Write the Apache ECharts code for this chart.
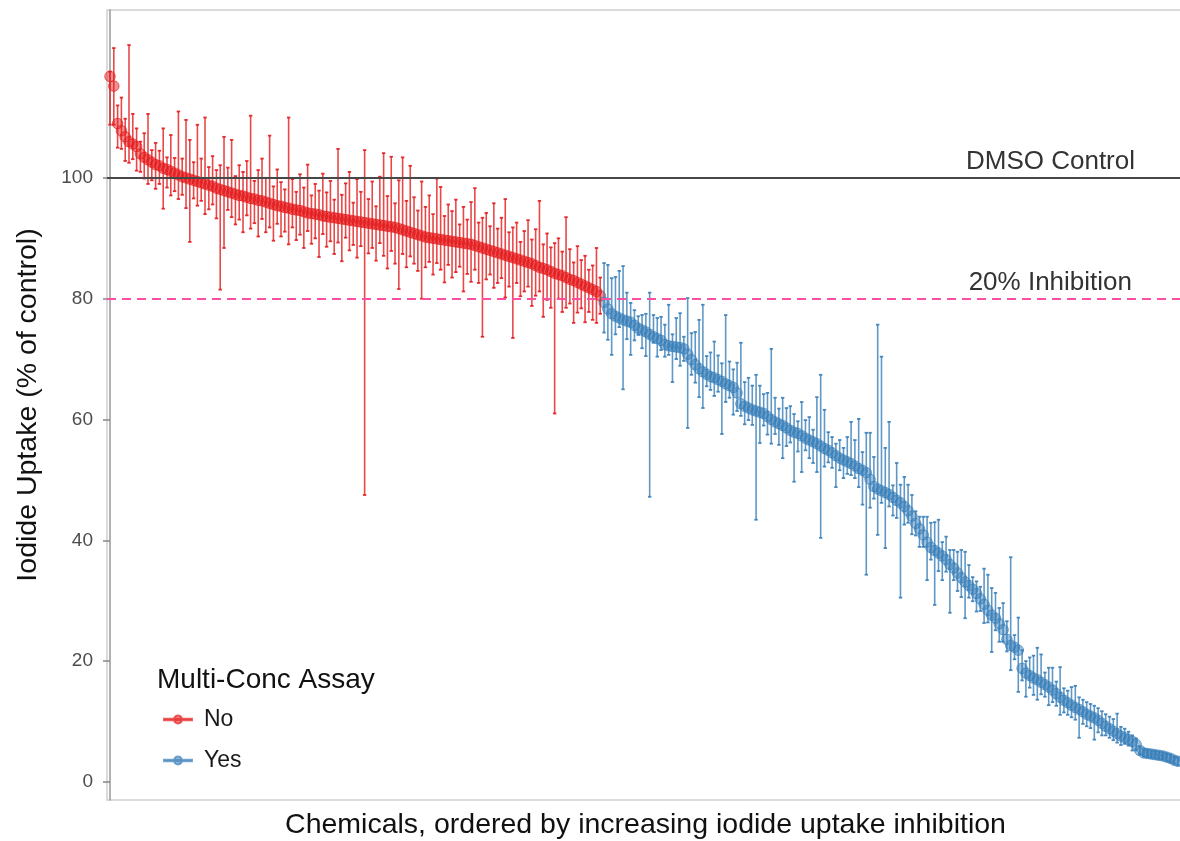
<!DOCTYPE html>
<html>
<head>
<meta charset="utf-8">
<script src="https://cdn.jsdelivr.net/npm/echarts@6/dist/echarts.min.js"></script>
<style>
  html, body { margin: 0; padding: 0; background: #fff; }
  #chart { width: 1180px; height: 841px; }
</style>
</head>
<body>
<div id="chart"></div>
<script>
// Iodide uptake per chemical (% of DMSO control), ordered by increasing inhibition.
// Chemicals not carried into the multi-concentration assay ("No")
const noMean = [
  116.8,115.2,109,107.8,106.8,106,105.6,105.2,104,103.4,
  103,102.6,102.2,102,101.6,101.4,101.1,100.8,100.5,100.2,
  100,99.8,99.6,99.4,99.2,99,98.8,98.6,98.3,98.1,
  97.9,97.7,97.5,97.3,97.1,97,96.8,96.6,96.5,96.3,
  96.2,96,95.8,95.6,95.4,95.3,95.1,95,94.8,94.7,
  94.6,94.4,94.2,94.1,94,93.9,93.7,93.6,93.5,93.4,
  93.3,93.2,93.1,93,92.9,92.8,92.7,92.6,92.5,92.4,
  92.3,92.2,92.1,92,91.9,91.8,91.6,91.4,91.2,91,
  90.8,90.6,90.4,90.2,90.1,90,89.9,89.8,89.7,89.6,
  89.5,89.4,89.3,89.2,89.1,89,88.8,88.6,88.4,88.2,
  88,87.8,87.6,87.4,87.2,87,86.8,86.6,86.4,86.2,
  86,85.8,85.5,85.2,85,84.8,84.5,84.2,84,83.8,
  83.5,83.2,83,82.7,82.4,82.1,81.8,81.5,81.2,80.5
];
// distance from the mean down to the lower end of each error bar
const noErrLo = [
  8,6.4,4,3,4,3.5,2.5,4,3,3.5,
  4,3,4,3,6.7,3,4,3,4,3,
  5,10.4,3,4,3,5,4,3,5,16.6,
  9.5,3,4,5,4,6,3,5,4,6,
  3,5,4,6,3,5,4,6,3,5,
  4,6,3,5,4,7,3,5,4,6,
  4,7,3,5,4,6,4,45.1,5,4,
  6,3,5,7,4,6,10,4,6,4,
  5,6,10.4,5,4,6,4,5,7,4,
  6,5,4,8,5,6.2,4,6,14.7,5,
  4,6,5,4,7,5,13.3,4,6,5,
  4,7,5,4,8,5,6,23.2,4,6,
  5,4,7,5,4,6,4,5,5.2,3
];
// distance from the mean up to the upper end of each error bar
const noErrHi = [
  0.8,6.3,3,5.5,3,16,5,3,2,4,
  7.6,2,3.6,2.5,6.6,2,6,2.5,10.5,3,
  9.6,6.5,3,9.4,4,11,3,5,3,4,
  8.9,4,8.8,3,5,4,6,13.7,3,5,
  7,4,11.2,3,6,4,3,15,5,3,
  6,4,8,3,5,4,7,4,6,3,
  11.5,4,6,8,3,7,5,12,4,7,
  3,8,12,5,11.6,4,8,12,5,11,
  6,4,9,5,7,4,10,8.7,4,6,
  5,7,3,6,4,7,9.5,4,5,6,
  4,8,4,6,9.3,4,5,6,3,5,
  7,4,6,11,4,6,4,5,6,4,
  10,5,3,6,4,5,3,4,7.2,3
];

// Chemicals carried into the multi-concentration assay ("Yes")
const yesMean = [
  79.4,78.3,77.5,77.1,76.8,76.5,76.3,76.1,75.6,75.1,
  74.8,74.5,74.1,73.7,73.4,73.1,72.4,72.2,72.1,72.0,
  71.9,71.7,70.8,69.9,69.1,68.4,67.9,67.5,67.1,66.9,
  66.6,66.3,65.9,65.6,65.3,64.4,62.6,62.2,61.9,61.6,
  61.4,61.2,61.0,60.5,60.0,59.6,59.3,59.0,58.6,58.2,
  57.9,57.7,57.3,56.9,56.6,56.3,56.0,55.6,55.2,54.9,
  54.5,54.0,53.6,53.3,53.0,52.7,52.3,51.9,51.6,51.2,
  50.1,48.9,48.5,48.2,47.9,47.6,47.1,46.6,46.2,45.6,
  44.9,44.0,42.8,41.9,40.9,39.7,38.8,38.3,37.9,37.4,
  36.8,36.0,35.4,34.6,33.8,33.1,32.5,31.9,31.2,30.3,
  29.4,28.4,27.6,27.1,26.2,25.2,23.6,22.6,22.3,21.8,
  18.8,18.0,17.6,17.2,16.9,16.5,16.1,15.7,15.2,14.6,
  14.0,13.5,13.1,12.7,12.3,12.0,11.6,11.2,10.9,10.6,
  10.2,9.7,9.2,8.8,8.4,8.0,7.6,7.3,7.0,6.7,
  6.2,5.2,4.8,4.7,4.6,4.5,4.4,4.3,4.1,3.9,
  3.6,3.4
];
const yesErrLo = [
  5,5.1,6.8,3,1.5,11.5,3,5.4,2.5,1.1,
  3,4,26.9,1,3,1.6,2,1.5,5.9,2,
  3,2,12.2,2.5,3,4.7,6,2,2.2,3,
  2,8.7,3,2,4.5,3,2,3,2,2.5,
  18,5.1,2,3,4,2,3.5,5.4,3,2,
  8.2,3,6,2,3,3.5,4.7,15.2,3,2,
  2.5,5.2,2,3,2,1.9,2,3.1,5.7,16.9,
  4.7,2,7.6,2,9.2,2,3,2.9,15.7,3,
  2,3,2,3,2,6.3,2,9,3,4,
  2,8,2,3,3.2,6,2,2,3,2,
  3.1,2,6.1,2,3,2,2,4.1,2,6.9,
  2,3.9,2,2.8,3.3,2,2,3,2,2,
  2.9,2,2,2,2,4.7,2,2,2,3.6,
  2,2,1.5,1.5,1.5,1.5,1.5,1,1,1.5,
  1,0.6,0.6,0.6,0.6,0.6,0.6,0.6,0.6,0.6,
  0.6,0.6
];
const yesErrHi = [
  6.5,7.3,5.9,6.5,7.8,8.9,4.7,3.2,2.5,2,
  2.5,3,6.9,3.6,3.4,3.9,3.3,6.8,2,4.8,
  5.7,2,9.3,4.4,5.4,8.1,11.1,3,4,6,
  4,3,11.4,4,3,5,10.1,4,5,4,
  6,4.4,3.2,3.9,11.7,4,2.5,4.6,3.3,4,
  3,2,5.6,3,3.8,2,7.7,11.8,6.4,3,
  2.6,2,3,2,4.1,6.9,4.3,8.2,3,6.6,
  7.7,4.9,27.2,22.2,7.4,12,2,6.2,3,4.9,
  4.3,3.5,2,2,3,4.2,4.1,4.7,5.5,2.3,
  3.8,2.4,3,3.5,4.6,5,3.4,2,2,2,
  5.9,5.9,4.5,4.2,2.6,4.4,3,14.6,2,5.4,
  3,2,3,3.7,5.3,4.6,2,3.2,3.7,2,
  5,2,2,3,3.6,2,2,2,2,2,
  2,2,2,2,2,3.3,1.5,1.5,1.3,1,
  1,0.6,0.6,0.6,0.6,0.6,0.6,0.6,0.6,0.6,
  0.6,0.6
];

const yTicks = [0, 20, 40, 60, 80, 100];
const controlLevel = 100;     // DMSO control
const inhibitionLevel = 80;   // 20% inhibition threshold
const groupNames = ['No', 'Yes'];

const RED = '#e41a1c';
const BLUE = '#377eb8';
const FONT = '"Liberation Sans", Arial, Helvetica, sans-serif';

function rgba(hex, a) {
  const n = parseInt(hex.slice(1), 16);
  return 'rgba(' + (n >> 16 & 255) + ',' + (n >> 8 & 255) + ',' + (n & 255) + ',' + a + ')';
}

// rank along the x axis: "No" chemicals first, then "Yes"
const noPoints = noMean.map((m, i) => [i, m]);
const yesPoints = yesMean.map((m, i) => [noMean.length + i, m]);
const noBars = noMean.map((m, i) => [i, m - noErrLo[i], m + noErrHi[i]]);
const yesBars = yesMean.map((m, i) => [noMean.length + i, m - yesErrLo[i], m + yesErrHi[i]]);

function errorBarRenderer(color) {
  return function (params, api) {
    const x = api.value(0);
    const lo = api.coord([x, api.value(1)]);
    const hi = api.coord([x, api.value(2)]);
    const style = { stroke: rgba(color, 0.8), lineWidth: 1.6 };
    const cap = { stroke: rgba(color, 0.9), lineWidth: 1.8 };
    const w = 1.7;
    return {
      type: 'group',
      children: [
        { type: 'line', shape: { x1: lo[0], y1: lo[1], x2: hi[0], y2: hi[1] }, style: style },
        { type: 'line', shape: { x1: lo[0] - w, y1: lo[1], x2: lo[0] + w, y2: lo[1] }, style: cap },
        { type: 'line', shape: { x1: hi[0] - w, y1: hi[1], x2: hi[0] + w, y2: hi[1] }, style: cap }
      ]
    };
  };
}

const legendIcon = 'path://M0,4.2 L28,4.2 L28,5.8 L0,5.8 Z M14,1 A4,4 0 1 1 13.99,1 Z';

const chart = echarts.init(document.getElementById('chart'), null, { renderer: 'canvas' });

chart.setOption({
  animation: false,
  backgroundColor: '#ffffff',
  textStyle: { fontFamily: FONT },
  title: {
    text: 'Multi-Conc Assay',
    left: 157,
    top: 666,
    padding: 0,
    textStyle: { fontFamily: FONT, fontSize: 28, fontWeight: 'normal', color: '#111111' }
  },
  legend: {
    data: groupNames,
    orient: 'vertical',
    left: 163,
    top: 708,
    padding: 0,
    itemWidth: 28,
    itemHeight: 10,
    itemGap: 18,
    icon: legendIcon,
    textStyle: { fontFamily: FONT, fontSize: 23, color: '#1a1a1a', padding: [0, 0, 0, 7] }
  },
  grid: {
    left: 107,
    right: -4,
    top: 10,
    bottom: 41,
    containLabel: false,
    outerBoundsMode: 'none',
    show: true,
    borderColor: '#cfcfcf',
    borderWidth: 1.5,
    backgroundColor: 'transparent'
  },
  xAxis: {
    type: 'value',
    min: -0.79,
    max: 282.6,
    name: 'Chemicals, ordered by increasing iodide uptake inhibition',
    nameLocation: 'middle',
    nameGap: 11,
    nameTextStyle: { fontFamily: FONT, fontSize: 28.5, color: '#111111' },
    axisLine: { show: false },
    axisTick: { show: false },
    axisLabel: { show: false },
    splitLine: { show: false }
  },
  yAxis: {
    type: 'value',
    min: -3,
    max: 127.8,
    name: 'Iodide Uptake (% of control)',
    nameLocation: 'middle',
    nameRotate: 90,
    nameGap: 64,
    nameTextStyle: { fontFamily: FONT, fontSize: 28.5, color: '#111111' },
    axisLine: { show: true, lineStyle: { color: '#999999', width: 1.5 } },
    axisTick: { show: true, length: 7, customValues: yTicks, lineStyle: { color: '#888888', width: 1.5 } },
    axisLabel: {
      customValues: yTicks,
      fontFamily: FONT, fontSize: 19, color: '#4d4d4d', margin: 14
    },
    splitLine: { show: false }
  },
  series: [
    {
      name: 'No',
      type: 'scatter',
      data: noPoints,
      symbol: 'circle',
      symbolSize: 10.5,
      itemStyle: { color: rgba(RED, 0.6), borderColor: rgba(RED, 0.85), borderWidth: 1 },
      z: 2
    },
    {
      name: 'Yes',
      type: 'scatter',
      data: yesPoints,
      symbol: 'circle',
      symbolSize: 10.5,
      itemStyle: { color: rgba(BLUE, 0.6), borderColor: rgba(BLUE, 0.85), borderWidth: 1 },
      z: 2
    },
    {
      name: 'No bars',
      type: 'custom',
      data: noBars,
      encode: { x: 0, y: [1, 2] },
      renderItem: errorBarRenderer(RED),
      z: 3,
      silent: true
    },
    {
      name: 'Yes bars',
      type: 'custom',
      data: yesBars,
      encode: { x: 0, y: [1, 2] },
      renderItem: errorBarRenderer(BLUE),
      z: 3,
      silent: true
    },
    {
      name: 'reference',
      type: 'line',
      data: [],
      z: 5,
      markLine: {
        silent: true,
        symbol: 'none',
        animation: false,
        data: [
          {
            yAxis: controlLevel,
            lineStyle: { color: '#474747', width: 2, type: 'solid' },
            label: {
              show: true, formatter: 'DMSO Control', position: 'insideEndTop',
              distance: [49, 3], fontFamily: FONT, fontSize: 26, color: '#333333'
            }
          },
          {
            yAxis: inhibitionLevel,
            lineStyle: { color: '#ff4fa3', width: 2, type: [9, 6] },
            label: {
              show: true, formatter: '20% Inhibition', position: 'insideEndTop',
              distance: [52, 3], fontFamily: FONT, fontSize: 26, color: '#333333'
            }
          }
        ]
      }
    }
  ]
});
</script>
</body>
</html>
